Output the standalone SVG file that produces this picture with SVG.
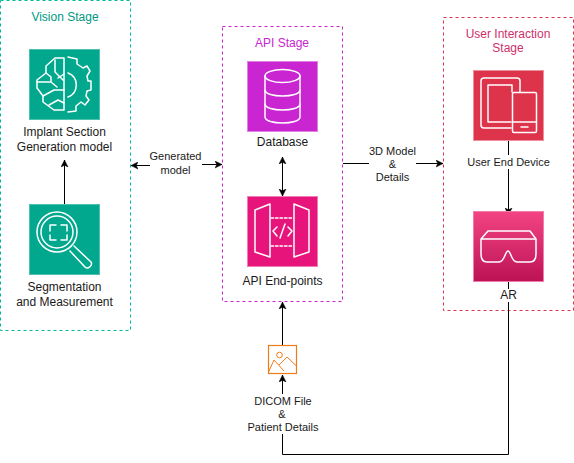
<svg xmlns="http://www.w3.org/2000/svg" width="574" height="463" viewBox="0 0 574 463">
<style>
text{font-family:"Liberation Sans",Arial,sans-serif;text-anchor:middle;fill:#1a1a1a;font-size:12px}
.m{font-size:11px}
.c{fill:none;stroke:#000;stroke-width:1}
.ic{fill:none;stroke:#fff;stroke-width:1.500;stroke-linejoin:round;stroke-linecap:round}
.stage{fill:#fff;stroke-width:1;stroke-dasharray:3 3}
.tile{stroke-width:1}
</style>
<defs>
<marker id="a" markerWidth="8" markerHeight="8" refX="7" refY="4" orient="auto-start-reverse" markerUnits="userSpaceOnUse"><path d="M0 0.5L7 4L0 7.5L1.8 4Z" fill="#000" stroke="#000" stroke-width="0.5"/></marker>
<linearGradient id="g" x1="0" y1="0" x2="0" y2="1"><stop offset="0" stop-color="#f34482"/><stop offset="1" stop-color="#bc1356"/></linearGradient>
</defs>

<g id="vision-stage"><rect class="stage" x="0.5" y="0.5" width="130" height="330" stroke="#00b89a"/><text x="65" y="21" style="fill:#00997f">Vision Stage</text></g>
<g id="api-stage"><rect class="stage" x="222.5" y="26.5" width="120" height="275" stroke="#c925d1"/><text x="282" y="47" style="fill:#c925d1">API Stage</text></g>
<g id="ui-stage"><rect class="stage" x="443.5" y="17.5" width="130" height="293" stroke="#dd344c"/><text x="508" y="38" style="fill:#cf2f6b">User Interaction</text><text x="508" y="52" style="fill:#cf2f6b">Stage</text></g>

<g id="connectors">
<path class="c" d="M64.500 204V160" marker-end="url(#a)"/>
<path class="c" d="M150 165.500H131" marker-end="url(#a)"/>
<path class="c" d="M202 164.500H222" marker-end="url(#a)"/>
<path class="c" d="M282.500 157V196" marker-start="url(#a)" marker-end="url(#a)"/>
<path class="c" d="M343 163.500H369"/>
<path class="c" d="M416 163.500H443" marker-end="url(#a)"/>
<path class="c" d="M508.500 141V155"/>
<path class="c" d="M508.500 169V215" marker-end="url(#a)"/>
<path class="c" d="M508.500 282V289"/>
<path class="c" d="M508.500 302V454.500H282.500V434"/>
<path class="c" d="M282.500 394V375" marker-end="url(#a)"/>
<path class="c" d="M282.500 345V302" marker-end="url(#a)"/>
</g>

<g id="implant-model">
<rect class="tile" x="29.500" y="49.500" width="70" height="70" fill="#01a88d" stroke="#4dc2af"/>
<g class="ic">
<path d="M64 58H55L46 66V73L37 80V88L43 96V102L54 110H64V58"/>
<path d="M55 60V72L63 80M46 73L51 77V82H37M43 96L54 90H64M64 74L58 78M51 82L57 87M49 105L58 100L64 103"/>
<path d="M68 57L77 59V64L83 68L87 66L90 71L87 76L88 81H91V90L87 91L86 96L89 100L85 105L81 102L76 106V111L68 112"/>
<path d="M68 73C79 77 79 93 68 97"/>
</g>
<text x="64.500" y="136">Implant Section</text><text x="64.500" y="151">Generation model</text>
</g>

<g id="segmentation">
<rect class="tile" x="29.500" y="204.500" width="70" height="70" fill="#01a88d" stroke="#4dc2af"/>
<g class="ic">
<circle cx="57" cy="232" r="20"/><circle cx="57" cy="232" r="16"/>
<path d="M50 231V225H56M61 225H67V231M67 235V240H61M56 240H50V235"/>
<path d="M74 246L91 262C93 265 88 270 85 267L70 251"/>
</g>
<text x="64.500" y="291">Segmentation</text><text x="64.500" y="306">and Measurement</text>
</g>

<g id="database">
<rect class="tile" x="247.500" y="61.500" width="70" height="70" fill="#c925d1" stroke="#e07fe4"/>
<g class="ic">
<ellipse cx="282.500" cy="76" rx="17.500" ry="6.500"/>
<path d="M265 76V117C265 125 300 125 300 117V76"/>
<path d="M265 90C265 98 300 98 300 90M265 104C265 112 300 112 300 104"/>
</g>
<text x="282.500" y="146">Database</text>
</g>

<g id="api-endpoints">
<rect class="tile" x="247.500" y="196.500" width="70" height="70" fill="#e7157b" stroke="#f27cb6"/>
<g class="ic">
<path d="M270 204L255 210V252L270 257ZM294 204L309 210V252L294 257Z"/>
<path d="M271 218H293M271 246H293" stroke-dasharray="2.500 2"/>
<path d="M277 227L273 231L277 236M288 227L292 231L288 236M285 224L280 238"/>
</g>
<text x="282.500" y="285">API End-points</text>
</g>

<g id="user-device">
<rect class="tile" x="473.500" y="70.500" width="70" height="70" fill="#dd344c" stroke="#ee8f9d"/>
<g class="ic">
<path d="M520 92V81Q520 78 517 78H484Q481 78 481 81V125Q481 128 484 128H511"/>
<path d="M511 122H488V85H512V92"/>
<rect x="512.500" y="92.500" width="24" height="40" rx="1.500"/>
<path d="M512.500 122H536.500M521 127H528"/>
</g>
<text class="m" x="508.500" y="166">User End Device</text>
</g>

<g id="ar">
<rect class="tile" x="473.500" y="211.500" width="70" height="70" fill="url(#g)" stroke="#f27cab"/>
<g class="ic">
<path d="M481 239L488 231H530L536 239V254Q536 262 530 262H517C511 262 511 251 508 251C505 251 505 262 499 262H487Q481 262 481 254ZM481 239H536"/>
</g>
<text x="508.500" y="299">AR</text>
</g>

<g id="dicom">
<rect x="268.500" y="345.500" width="28" height="28" fill="#fff" stroke="#ed7d1a" stroke-width="1.200"/>
<g fill="none" stroke="#ed7d1a" stroke-width="1"><circle cx="279.500" cy="355" r="2.800"/><path d="M268.500 372L274 360L284 371M279 365L287 357L296.500 366"/></g>
<text class="m" x="283" y="405">DICOM File</text><text class="m" x="282" y="418">&amp;</text><text class="m" x="283" y="431">Patient Details</text>
</g>

<text class="m" x="175.500" y="160">Generated</text><text class="m" x="175.500" y="174">model</text>
<text class="m" x="392.500" y="155">3D Model</text><text class="m" x="392.500" y="168">&amp;</text><text class="m" x="392.500" y="181">Details</text>
</svg>
